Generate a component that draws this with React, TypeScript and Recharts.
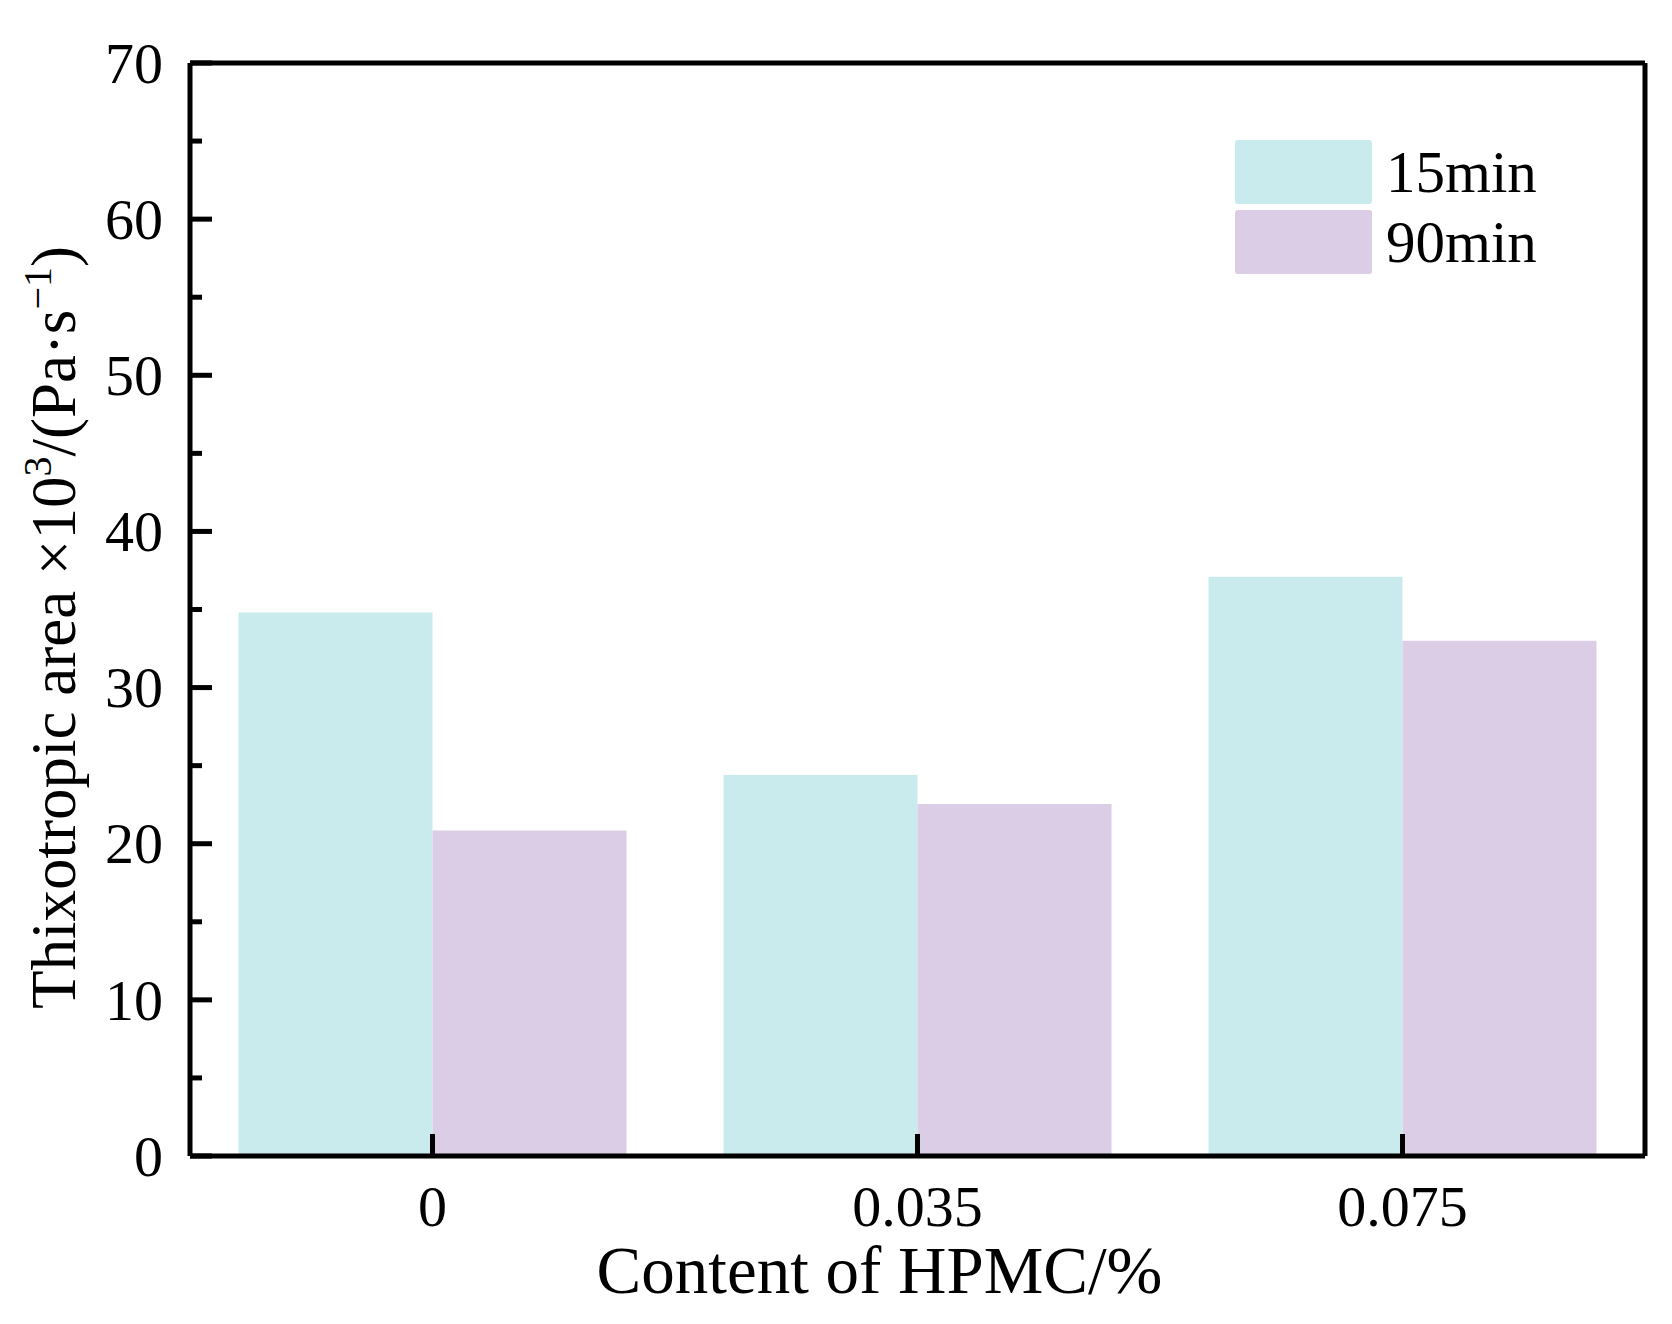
import React from 'react';
import { BarChart, Bar, XAxis, YAxis, Legend } from 'recharts';

const contents = ['0', '0.035', '0.075'];
const area15 = [34.8, 24.4, 37.1];
const area90 = [20.85, 22.55, 33.0];
const yTicks = [0, 5, 10, 15, 20, 25, 30, 35, 40, 45, 50, 55, 60, 65, 70];

const data = contents.map((c, i) => ({ content: c, m15: area15[i], m90: area90[i] }));

const FONT = '"Liberation Serif", "Times New Roman", serif';
const C15 = '#C9EBEE';
const C90 = '#DBCDE5';

const YTick = (props: any) => {
  const { x, y, payload } = props;
  const major = payload.value % 10 === 0;
  return (
    <g>
      <line x1={x} x2={x + (major ? 22 : 12)} y1={y} y2={y} stroke="#000" strokeWidth={5} />
      {major && (
        <text x={x - 27} y={y} dy="0.34em" textAnchor="end" fontSize={58} fontFamily={FONT} fill="#000">
          {payload.value}
        </text>
      )}
    </g>
  );
};

const XTick = (props: any) => {
  const { x, y, payload } = props;
  return (
    <g>
      <line x1={x} x2={x} y1={y - 22} y2={y} stroke="#000" strokeWidth={5} />
      <text x={x} y={y + 70} textAnchor="middle" fontSize={58} fontFamily={FONT} fill="#000">
        {payload.value}
      </text>
    </g>
  );
};

const YTitle = (props: any) => {
  const { viewBox } = props;
  const cx = 75;
  const cy = viewBox.y + viewBox.height / 2 + 18;
  return (
    <text
      x={cx}
      y={cy}
      transform={`rotate(-90, ${cx}, ${cy})`}
      textAnchor="middle"
      fontSize={63}
      fontFamily={FONT}
      fill="#000"
    >
      Thixotropic area ×10
      <tspan fontSize={40} dy={-24}>3</tspan>
      <tspan dy={24}>/(Pa·s</tspan>
      <tspan fontSize={40} dy={-24}>−1</tspan>
      <tspan dy={24}>)</tspan>
    </text>
  );
};

const XTitle = (props: any) => {
  const { viewBox } = props;
  const cx = viewBox.x + viewBox.width / 2 - 38;
  return (
    <text x={cx} y={1293} textAnchor="middle" fontSize={67} fontFamily={FONT} fill="#000">
      Content of HPMC/%
    </text>
  );
};

const renderLegend = (props: any) => {
  const { payload } = props;
  return (
    <div style={{ display: 'flex', flexDirection: 'column', gap: 6 }}>
      {payload.map((p: any) => (
        <div key={p.value} style={{ display: 'flex', alignItems: 'center' }}>
          <div style={{ width: 137, height: 64, background: p.color, borderRadius: 3 }} />
          <span style={{ marginLeft: 14, fontSize: 59, fontFamily: FONT, color: '#000', lineHeight: '64px' }}>
            {p.value}
          </span>
        </div>
      ))}
    </div>
  );
};

export default function App() {
  return (
    <div style={{ position: 'absolute', left: 0, top: 0, background: '#fff' }}>
      <BarChart
        width={1672}
        height={1324}
        data={data}
        margin={{ top: 63, right: 27, bottom: 0, left: 0 }}
        barCategoryGap="10%"
        barGap={0}
      >
        <Bar dataKey="m15" name="15min" fill={C15} isAnimationActive={false} />
        <Bar dataKey="m90" name="90min" fill={C90} isAnimationActive={false} />
        <XAxis
          dataKey="content"
          height={168}
          tickSize={0}
          tickMargin={0}
          tickLine={false}
          tick={<XTick />}
          interval={0}
          axisLine={{ stroke: '#000', strokeWidth: 5 }}
          label={<XTitle />}
        />
        <XAxis
          xAxisId="top"
          dataKey="content"
          orientation="top"
          mirror
          height={1}
          tick={false}
          tickLine={false}
          axisLine={{ stroke: '#000', strokeWidth: 5 }}
        />
        <YAxis
          width={190}
          domain={[0, 70]}
          ticks={yTicks}
          interval={0}
          tickSize={0}
          tickMargin={0}
          tickLine={false}
          tick={<YTick />}
          axisLine={{ stroke: '#000', strokeWidth: 5 }}
          label={<YTitle />}
        />
        <YAxis
          yAxisId="right"
          orientation="right"
          mirror
          width={1}
          domain={[0, 70]}
          tick={false}
          tickLine={false}
          axisLine={{ stroke: '#000', strokeWidth: 5 }}
        />
        <Legend
          content={renderLegend}
          layout="horizontal"
          verticalAlign="middle"
          align="center"
          wrapperStyle={{ position: 'absolute', left: 1235, top: 140, width: 'auto' }}
        />
      </BarChart>
    </div>
  );
}
